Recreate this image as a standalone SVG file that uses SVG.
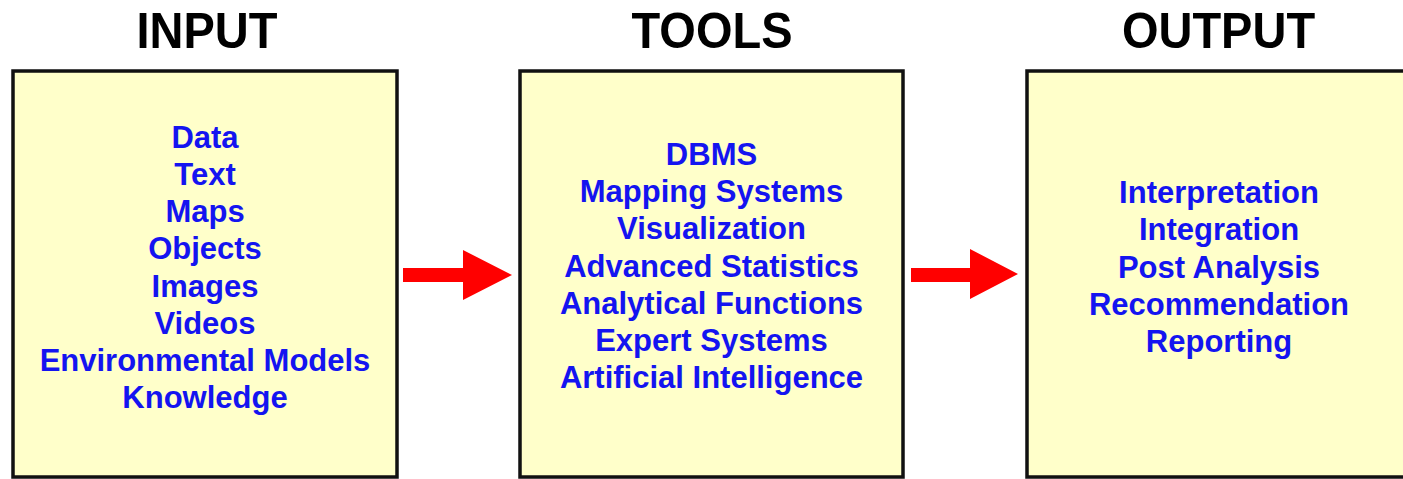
<svg xmlns="http://www.w3.org/2000/svg" width="1403" height="479" viewBox="0 0 1403 479">
<style>
.box{fill:#FFFFCA;stroke:#111;stroke-width:3.5}
.title{font-family:"Liberation Sans",Arial,sans-serif;font-weight:bold;font-size:47px;fill:#000;text-anchor:middle}
.item{font-family:"Liberation Sans",Arial,sans-serif;font-weight:bold;font-size:31px;fill:#1414F0;text-anchor:middle}
.arrow{fill:#FF0000}
</style>
<rect width="1403" height="479" fill="#fff"/>
<g id="input">
<text class="title" transform="translate(207,48) scale(1,1.08)">INPUT</text>
<rect class="box" x="13" y="71" width="384" height="406"/>
<text class="item" x="205" y="148">Data</text>
<text class="item" x="205" y="185">Text</text>
<text class="item" x="205" y="222">Maps</text>
<text class="item" x="205" y="259">Objects</text>
<text class="item" x="205" y="297">Images</text>
<text class="item" x="205" y="334">Videos</text>
<text class="item" x="205" y="371">Environmental Models</text>
<text class="item" x="205" y="408">Knowledge</text>
</g>
<g id="tools">
<text class="title" transform="translate(712,48) scale(1,1.08)">TOOLS</text>
<rect class="box" x="520" y="71" width="383" height="406"/>
<text class="item" x="711.5" y="165">DBMS</text>
<text class="item" x="711.5" y="202">Mapping Systems</text>
<text class="item" x="711.5" y="239">Visualization</text>
<text class="item" x="711.5" y="277">Advanced Statistics</text>
<text class="item" x="711.5" y="314">Analytical Functions</text>
<text class="item" x="711.5" y="351">Expert Systems</text>
<text class="item" x="711.5" y="388">Artificial Intelligence</text>
</g>
<g id="output">
<text class="title" transform="translate(1218.5,48) scale(1,1.08)">OUTPUT</text>
<rect class="box" x="1027" y="71" width="384" height="406"/>
<text class="item" x="1219" y="203">Interpretation</text>
<text class="item" x="1219" y="240">Integration</text>
<text class="item" x="1219" y="278">Post Analysis</text>
<text class="item" x="1219" y="315">Recommendation</text>
<text class="item" x="1219" y="352">Reporting</text>
</g>
<g id="connectors">
<polygon class="arrow" points="403,268 463,268 463,250 512,275 463,300 463,282 403,282"/>
<polygon class="arrow" points="911,268 970,268 970,249 1018,274 970,299 970,282 911,282"/>
</g>
</svg>
